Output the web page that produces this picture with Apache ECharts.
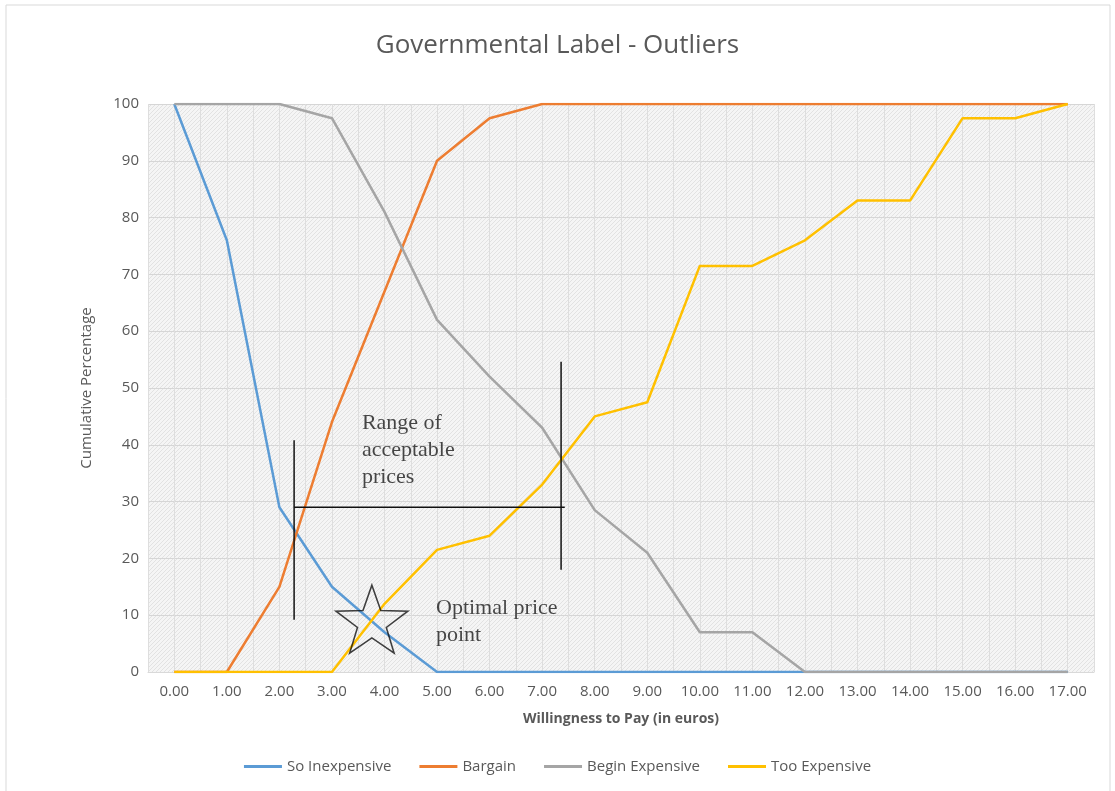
<!DOCTYPE html>
<html>
<head>
<meta charset="utf-8">
<script src="https://cdn.jsdelivr.net/npm/echarts@6/dist/echarts.min.js"></script>
<style>
  html, body { margin: 0; padding: 0; background: #fff; }
  #chart { width: 1115px; height: 791px; }
</style>
</head>
<body>
<div id="chart"></div>
<script>
// prices on the x axis
const prices = ['0.00', '1.00', '2.00', '3.00', '4.00', '5.00', '6.00', '7.00', '8.00',
  '9.00', '10.00', '11.00', '12.00', '13.00', '14.00', '15.00', '16.00', '17.00'];

// cumulative percentages
const soInexpensive = [100, 76, 29, 15, 7, 0, 0, 0, 0, 0, 0, 0, 0, 0, 0, 0, 0, 0];
const bargain = [0, 0, 15, 44, 67, 90, 97.5, 100, 100, 100, 100, 100, 100, 100, 100, 100, 100, 100];
const beginExpensive = [100, 100, 100, 97.5, 81, 62, 52, 43, 28.5, 21, 7, 7, 0, 0, 0, 0, 0, 0];
const tooExpensive = [0, 0, 0, 0, 12, 21.5, 24, 33, 45, 47.5, 71.5, 71.5, 76, 83, 83, 97.5, 97.5, 100];

const yTicks = { min: 0, max: 100, step: 10 };

// annotations (x in category index units, y in percent)
const rangeLeft = [[2.28, 40.8], [2.28, 9.2]];
const rangeRight = [[7.36, 54.6], [7.36, 18]];
const rangeBar = [[2.28, 29], [7.43, 29]];
const rangeText = [[3.57, 46.2]];
const optimalText = [[4.98, 13.6]];
const optimalStar = [[3.76, 9.3]];

const colors = ['#5b9bd5', '#ed7d31', '#a5a5a5', '#ffc000'];

// light hatched background like the original plot area
function hatch() {
  const c = document.createElement('canvas');
  c.width = 4; c.height = 4;
  const g = c.getContext('2d');
  g.fillStyle = '#f5f5f5';
  g.fillRect(0, 0, 4, 4);
  g.fillStyle = '#e2e2e2';
  for (let i = 0; i < 4; i++) g.fillRect(i, 3 - i, 1, 1);
  return c;
}

const chart = echarts.init(document.getElementById('chart'));

function lineSeries(name, data, color) {
  return {
    name: name,
    type: 'line',
    data: data,
    symbol: 'none',
    color: color,
    lineStyle: { width: 2.5, color: color },
    z: 3
  };
}

function annotLine(data) {
  return {
    type: 'line',
    xAxisIndex: 1,
    data: data,
    symbol: 'none',
    lineStyle: { color: '#111', width: 1.5 },
    silent: true,
    z: 5
  };
}

function annotText(data, text) {
  return {
    type: 'scatter',
    xAxisIndex: 1,
    data: data,
    symbolSize: 0,
    silent: true,
    label: {
      show: true,
      position: [0, 0],
      align: 'left',
      verticalAlign: 'top',
      formatter: text,
      fontFamily: 'Liberation Serif',
      fontSize: 22,
      lineHeight: 27,
      color: '#1a1a1a'
    },
    z: 6
  };
}

const option = {
  backgroundColor: '#fff',
  animation: false,
  graphic: [{
    type: 'rect',
    shape: { x: 6, y: 5, width: 1104, height: 790 },
    style: { fill: 'none', stroke: '#d9d9d9', lineWidth: 1 },
    silent: true
  }],
  title: {
    text: 'Governmental Label - Outliers',
    left: 'center',
    top: 28,
    textStyle: {
      fontFamily: 'Open Sans',
      fontWeight: 'normal',
      fontSize: 26,
      color: '#595959'
    }
  },
  legend: {
    bottom: 12,
    left: 'center',
    data: ['So Inexpensive', 'Bargain', 'Begin Expensive', 'Too Expensive'],
    icon: 'rect',
    itemWidth: 38,
    itemHeight: 3,
    itemGap: 28,
    textStyle: { fontFamily: 'Open Sans', fontSize: 15, color: '#595959' }
  },
  grid: {
    left: 148,
    right: 21,
    top: 104,
    bottom: 119,
    show: true,
    borderWidth: 0,
    backgroundColor: { image: hatch(), repeat: 'repeat' }
  },
  xAxis: [{
    type: 'category',
    data: prices,
    boundaryGap: true,
    name: 'Willingness to Pay (in euros)',
    nameLocation: 'middle',
    nameGap: 40,
    nameTextStyle: { fontFamily: 'Open Sans', fontWeight: 'bold', fontSize: 14, color: '#595959' },
    axisLine: { show: true, lineStyle: { color: '#d9d9d9' } },
    axisTick: { show: false },
    axisLabel: { fontFamily: 'Open Sans', fontSize: 15, color: '#595959', margin: 12 },
    splitLine: { show: false }
  }, {
    type: 'value',
    min: -0.5,
    max: 17.5,
    interval: 0.5,
    show: true,
    axisLine: { show: false },
    axisTick: { show: false },
    axisLabel: { show: false },
    splitLine: { show: true, lineStyle: { color: '#dedede', width: 1 } }
  }],
  yAxis: {
    type: 'value',
    min: yTicks.min,
    max: yTicks.max,
    interval: yTicks.step,
    name: 'Cumulative Percentage',
    nameLocation: 'middle',
    nameGap: 54,
    nameTextStyle: { fontFamily: 'Open Sans', fontSize: 15, color: '#595959' },
    axisLine: { show: false },
    axisTick: { show: false },
    axisLabel: { fontFamily: 'Open Sans', fontSize: 15, color: '#595959', margin: 9 },
    splitLine: { show: true, lineStyle: { color: '#d6d6d6', width: 1 } }
  },
  series: [
    lineSeries('So Inexpensive', soInexpensive, colors[0]),
    lineSeries('Bargain', bargain, colors[1]),
    lineSeries('Begin Expensive', beginExpensive, colors[2]),
    lineSeries('Too Expensive', tooExpensive, colors[3]),
    annotLine(rangeLeft),
    annotLine(rangeRight),
    annotLine(rangeBar),
    annotText(rangeText, 'Range of\nacceptable\nprices'),
    annotText(optimalText, 'Optimal price\npoint'),
    {
      type: 'scatter',
      xAxisIndex: 1,
      data: optimalStar,
      symbol: 'path://M50,0 L61.76,33.82 L97.55,34.55 L69.02,56.18 L79.39,90.45 L50,70 L20.61,90.45 L30.98,56.18 L2.45,34.55 L38.24,33.82 Z',
      symbolSize: [72, 68],
      itemStyle: { color: 'rgba(0,0,0,0)', borderColor: '#111', borderWidth: 1.5 },
      silent: true,
      z: 6
    }
  ]
};

chart.setOption(option);
</script>
</body>
</html>
